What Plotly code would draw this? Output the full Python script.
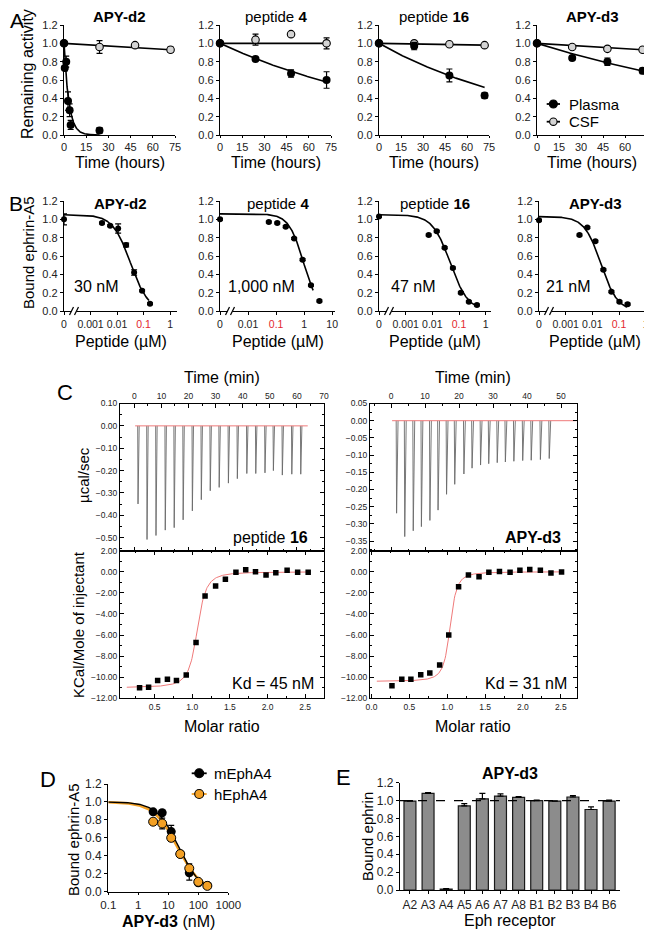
import numpy as np
import plotly.graph_objects as go

# page body has an 8px margin: the figure is sized to fit the 652x932 window
OFF = 8
W, H = 644, 924
FONT = "Arial, 'Liberation Sans', Helvetica, sans-serif"
RED = "#e3262e"
ITC_RED = "#ef7a7a"
ORANGE = "#f3a024"

def X(p):
    return (p - OFF) / W

def Y(p):
    return 1 - (p - OFF) / H

# ---------------- Panel A : stability ----------------
a_titles = ["<b>APY-d2</b>", "peptide <b>4</b>", "peptide <b>16</b>", "<b>APY-d3</b>"]
a_time_ticks = [0, 15, 30, 45, 60, 75]
a1_plasma_t = [0, 0.5, 1.5, 2.7, 3.8, 4.5, 24]
a1_plasma_y = [1.00, 0.73, 0.80, 0.37, 0.27, 0.11, 0.05]
a1_plasma_e = [0.00, 0.03, 0.06, 0.10, 0.07, 0.05, 0.03]
a1_csf_t = [0, 24, 48, 72]
a1_csf_y = [1.00, 0.96, 0.98, 0.93]
a1_csf_e = [0.00, 0.07, 0.01, 0.03]
a2_plasma_t = [0, 24, 48, 72]
a2_plasma_y = [1.00, 0.83, 0.67, 0.60]
a2_plasma_e = [0.00, 0.01, 0.04, 0.09]
a2_csf_t = [0, 24, 48, 72]
a2_csf_y = [1.00, 1.04, 1.10, 1.00]
a2_csf_e = [0.00, 0.06, 0.00, 0.06]
a3_plasma_t = [0, 24, 48, 72]
a3_plasma_y = [1.00, 0.97, 0.65, 0.43]
a3_plasma_e = [0.00, 0.04, 0.07, 0.03]
a3_csf_t = [0, 24, 48, 72]
a3_csf_y = [1.00, 1.00, 0.99, 0.98]
a3_csf_e = [0.00, 0.01, 0.01, 0.01]
a4_plasma_t = [0, 24, 48, 72]
a4_plasma_y = [1.00, 0.84, 0.80, 0.70]
a4_plasma_e = [0.00, 0.02, 0.04, 0.03]
a4_csf_t = [0, 24, 48, 72]
a4_csf_y = [1.00, 0.96, 0.94, 0.93]
a4_csf_e = [0.00, 0.01, 0.02, 0.01]
# fitted one-phase decay constants (1/h) and fit end times
a_plasma_k = [0.31, 0.0076, 0.0091, 0.0050]
a_csf_k = [0.0010, 0.0, 0.00028, 0.0010]
a_plasma_fit_end = [24, 72, 72, 72]
a_legend = ["Plasma", "CSF"]

# ---------------- Panel B : inhibition ----------------
b_titles = a_titles
b1_conc = [0, 0.0027, 0.0055, 0.011, 0.022, 0.044, 0.088, 0.175]
b1_y = [1.00, 0.96, 0.93, 0.90, 0.72, 0.42, 0.22, 0.08]
b1_e = [0.06, 0.01, 0.01, 0.05, 0.02, 0.03, 0.01, 0.01]
b2_conc = [0, 0.055, 0.11, 0.22, 0.44, 0.88, 1.75, 3.5]
b2_y = [1.00, 0.97, 0.96, 0.92, 0.79, 0.56, 0.28, 0.11]
b2_e = [0.01, 0.01, 0.01, 0.01, 0.01, 0.01, 0.01, 0.01]
b3_conc = [0, 0.0073, 0.0146, 0.029, 0.059, 0.117, 0.234, 0.47]
b3_y = [1.03, 0.83, 0.87, 0.69, 0.47, 0.20, 0.10, 0.065]
b3_e = [0.01, 0.01, 0.01, 0.01, 0.01, 0.01, 0.01, 0.01]
b4_conc = [0, 0.0033, 0.0065, 0.013, 0.026, 0.052, 0.104, 0.21]
b4_y = [0.99, 0.83, 0.91, 0.76, 0.45, 0.21, 0.10, 0.075]
b4_e = [0.01, 0.01, 0.01, 0.01, 0.01, 0.01, 0.01, 0.01]
b_top = [1.05, 1.06, 1.05, 1.03]
b_ic50 = [0.032, 0.95, 0.047, 0.021]
b_hill = [1.3, 1.65, 1.3, 1.4]
b_fit_end = [0.16, 2.1, 0.47, 0.20]
b_ic50_text = ["30 nM", "1,000 nM", "47 nM", "21 nM"]
b_zero_pos = [-4, -3, -4, -4]
b_tick_vals = [[-4, -3, -2, -1, 0], [-3, -2, -1, 0, 1], [-4, -3, -2, -1, 0], [-4, -3, -2, -1, 0]]
red01 = "<span style='color:%s'>0.1</span>" % RED
b_tick_text = [["0", "0.001", "0.01", red01, "1"], ["0", "0.01", red01, "1", "10"],
               ["0", "0.001", "0.01", red01, "1"], ["0", "0.001", "0.01", red01, "1"]]

# ---------------- Panel C : ITC ----------------
c1_inj_t = [1.25, 4.57, 7.88, 11.3, 14.6, 17.9, 21.3, 24.6, 27.9, 31.2, 34.6, 37.9, 41.4, 44.7, 48.1, 51.2, 54.5, 58.0, 61.3]
c1_inj_d = [-0.349, -0.508, -0.49, -0.466, -0.455, -0.42, -0.38, -0.33, -0.29, -0.275, -0.256, -0.236, -0.213, -0.213, -0.21, -0.20, -0.22, -0.216, -0.216]
c1_ratio = [0.30, 0.42, 0.54, 0.67, 0.79, 0.92, 1.05, 1.17, 1.31, 1.44, 1.58, 1.71, 1.84, 1.98, 2.11, 2.26, 2.40, 2.54]
c1_heat = [-11.0, -10.95, -10.3, -10.2, -10.3, -9.8, -6.7, -2.3, -1.35, -0.7, -0.05, 0.2, 0.0, -0.3, -0.1, 0.15, -0.05, -0.05]
c2_inj_t = [1.5, 3.9, 6.4, 8.8, 11.3, 13.7, 16.2, 18.6, 21.3, 23.7, 26.2, 28.6, 31.1, 33.5, 36.0, 38.6, 41.1, 43.8, 46.4]
c2_inj_d = [-0.269, -0.337, -0.32, -0.308, -0.29, -0.26, -0.214, -0.185, -0.155, -0.138, -0.129, -0.125, -0.122, -0.12, -0.118, -0.116, -0.115, -0.113, -0.11]
c2_ratio = [0.27, 0.40, 0.52, 0.65, 0.77, 0.90, 1.02, 1.15, 1.28, 1.42, 1.55, 1.69, 1.83, 1.96, 2.09, 2.23, 2.37, 2.51]
c2_heat = [-10.8, -10.2, -10.2, -9.77, -9.6, -8.85, -6.0, -1.42, -0.3, -0.47, -0.05, 0.03, -0.05, 0.15, 0.22, 0.15, -0.12, -0.03]
# one-site fit parameters: dH (kcal/mol), n, c-value
c_dH = [-11.0, -10.4]
c_n = [1.07, 1.04]
c_c = [300.0, 500.0]
c_fit_range = [(0.13, 2.55), (0.07, 2.52)]
c_labels = ["peptide <b>16</b>", "<b>APY-d3</b>"]
c_kd = ["Kd = 45 nM", "Kd = 31 nM"]

# ---------------- Panel D ----------------
d_conc = [3.125, 6.25, 12.5, 25, 50, 100, 200]
d_m_y = [0.89, 0.88, 0.67, 0.42, 0.21, 0.10, 0.07]
d_m_e = [0.02, 0.02, 0.07, 0.02, 0.08, 0.01, 0.01]
d_h_y = [0.78, 0.76, 0.60, 0.42, 0.26, 0.11, 0.065]
d_h_e = [0.02, 0.06, 0.04, 0.02, 0.05, 0.01, 0.01]
d_ic50 = [22.0, 20.0]
d_hill = [1.2, 1.1]
d_legend = ["mEphA4", "hEphA4"]

# ---------------- Panel E ----------------
e_receptors = ["A2", "A3", "A4", "A5", "A6", "A7", "A8", "B1", "B2", "B3", "B4", "B6"]
e_values = [0.995, 1.08, 0.01, 0.94, 1.02, 1.05, 1.035, 1.00, 0.995, 1.04, 0.90, 0.995]
e_err = [0.005, 0.01, 0.005, 0.025, 0.06, 0.025, 0.01, 0.005, 0.003, 0.015, 0.03, 0.01]

# =====================================================================
fig = go.Figure()
layout = dict(width=W, height=H, margin=dict(l=0, r=0, t=0, b=0, autoexpand=False),
              paper_bgcolor="white", plot_bgcolor="white", template="none",
              font=dict(family=FONT, color="black"), showlegend=False)
annotations = []
shapes = []
counter = [0]


def base_axis(size=11):
    return dict(showline=True, linecolor="black", linewidth=1.3, ticks="outside", ticklen=3,
                tickwidth=1.3, tickcolor="black", showgrid=False, zeroline=False, automargin=False,
                tickangle=0, tickfont=dict(size=size, color="#222", family=FONT))


def add_axes(xpx, ypx, xa, ya, size=11):
    counter[0] += 1
    n = counter[0]
    sfx = "" if n == 1 else str(n)
    xd = base_axis(size)
    xd.update(domain=[X(xpx[0]), X(xpx[1])], anchor="y" + sfx)
    xd.update(xa)
    yd = base_axis(size)
    yd.update(domain=[Y(ypx[1]), Y(ypx[0])], anchor="x" + sfx)
    yd.update(ya)
    layout["xaxis" + sfx] = xd
    layout["yaxis" + sfx] = yd
    return "x" + sfx, "y" + sfx


def ann(text, x, y, size, xanchor="center", yanchor="middle", angle=0, color="black"):
    annotations.append(dict(text=text, x=X(x), y=Y(y), xref="paper", yref="paper",
                            xanchor=xanchor, yanchor=yanchor, showarrow=False, textangle=angle,
                            font=dict(size=size, color=color, family=FONT)))


def legend_key(x0, x1, y, r, fill, linecolor, text, tx):
    shapes.append(dict(type="line", xref="paper", yref="paper", x0=X(x0), x1=X(x1), y0=Y(y), y1=Y(y),
                       line=dict(color=linecolor, width=1.8), layer="above"))
    cx = (x0 + x1) / 2
    shapes.append(dict(type="circle", xref="paper", yref="paper", x0=X(cx - r), x1=X(cx + r),
                       y0=Y(y + r), y1=Y(y - r), fillcolor=fill, line=dict(color="black", width=1.1),
                       layer="above"))
    ann(text, tx, y, 15, xanchor="left")


def err(arr):
    return dict(type="data", array=arr, color="black", thickness=1.2, width=3)


# ---------------- Panel A ----------------
a_xpx = [(64, 175), (220, 331), (379, 489), (537, 647)]
a_data = [
    (a1_plasma_t, a1_plasma_y, a1_plasma_e, a1_csf_t, a1_csf_y, a1_csf_e),
    (a2_plasma_t, a2_plasma_y, a2_plasma_e, a2_csf_t, a2_csf_y, a2_csf_e),
    (a3_plasma_t, a3_plasma_y, a3_plasma_e, a3_csf_t, a3_csf_y, a3_csf_e),
    (a4_plasma_t, a4_plasma_y, a4_plasma_e, a4_csf_t, a4_csf_y, a4_csf_e),
]
for i in range(4):
    xr, yr = add_axes(a_xpx[i], (25, 135),
                      dict(range=[0, 75], tickvals=a_time_ticks, ticklen=2),
                      dict(range=[0, 1.2], tickvals=[0, 0.2, 0.4, 0.6, 0.8, 1.0, 1.2], tickformat=".1f"))
    pt, py, pe, ct, cy, ce = a_data[i]
    tc = np.linspace(0, 72, 60)
    fig.add_trace(go.Scatter(x=tc, y=np.exp(-a_csf_k[i] * tc), mode="lines", xaxis=xr, yaxis=yr,
                             line=dict(color="black", width=1.6), hoverinfo="skip"))
    tp = np.linspace(0, a_plasma_fit_end[i], 200)
    fig.add_trace(go.Scatter(x=tp, y=np.exp(-a_plasma_k[i] * tp), mode="lines", xaxis=xr, yaxis=yr,
                             line=dict(color="black", width=1.6), hoverinfo="skip"))
    fig.add_trace(go.Scatter(x=ct, y=cy, error_y=err(ce), mode="markers", xaxis=xr, yaxis=yr,
                             marker=dict(size=7.5, color="#d4d4d4", line=dict(color="black", width=1.1)),
                             cliponaxis=False))
    fig.add_trace(go.Scatter(x=pt, y=py, error_y=err(pe), mode="markers", xaxis=xr, yaxis=yr,
                             marker=dict(size=8, color="black"), cliponaxis=False))
    ann(a_titles[i], (a_xpx[i][0] + a_xpx[i][1]) / 2, 16.5, 15)
    ann("Time (hours)", (a_xpx[i][0] + a_xpx[i][1]) / 2, 162.5, 16)
legend_key(546.7, 560, 104, 4, "black", "black", a_legend[0], 566.7)
legend_key(546.7, 560, 121.7, 3.7, "#d4d4d4", "black", a_legend[1], 566.7)
ann("Remaining activity", 28, 74, 16, angle=-90)
ann("A", 17, 20, 21)

# ---------------- Panel B ----------------
b_xpx = [(64, 177), (220, 335), (379, 491), (539, 651)]
b_xmax = [0.26, 1.1, 0.2, 0.2]
b_data = [(b1_conc, b1_y, b1_e), (b2_conc, b2_y, b2_e), (b3_conc, b3_y, b3_e), (b4_conc, b4_y, b4_e)]
b_text_x = [96, 261, 413, 568]
for i in range(4):
    xr, yr = add_axes(b_xpx[i], (201, 311),
                      dict(range=[b_zero_pos[i], b_xmax[i]], tickvals=b_tick_vals[i], ticktext=b_tick_text[i],
                           tickfont=dict(size=10.5, color="#222", family=FONT)),
                      dict(range=[0, 1.2], tickvals=[0, 0.2, 0.4, 0.6, 0.8, 1.0, 1.2], tickformat=".1f"))
    conc, yy, ee = b_data[i]
    pos = [np.log10(c) if c > 0 else b_zero_pos[i] for c in conc]
    lx = np.linspace(b_zero_pos[i], np.log10(b_fit_end[i]), 200)
    ly = b_top[i] / (1 + 10 ** ((lx - np.log10(b_ic50[i])) * b_hill[i]))
    fig.add_trace(go.Scatter(x=lx, y=ly, mode="lines", xaxis=xr, yaxis=yr,
                             line=dict(color="black", width=1.6), hoverinfo="skip"))
    fig.add_trace(go.Scatter(x=pos, y=yy, error_y=err(ee), mode="markers", xaxis=xr, yaxis=yr,
                             marker=dict(size=6, color="black"), cliponaxis=False))
    ann(b_titles[i], (b_xpx[i][0] + b_xpx[i][1]) / 2, 203, 15)
    ann("Peptide (\u00b5M)", (b_xpx[i][0] + b_xpx[i][1]) / 2, 341, 16)
    ann(b_ic50_text[i], b_text_x[i], 286, 16)
    # axis break marks
    cx = b_xpx[i][0] + 10
    shapes.append(dict(type="rect", xref="paper", yref="paper", x0=X(cx - 2.5), x1=X(cx + 2.5),
                       y0=Y(313), y1=Y(309), fillcolor="white", line=dict(width=0), layer="above"))
    for dxp in (-2.5, 2.5):
        shapes.append(dict(type="line", xref="paper", yref="paper", x0=X(cx + dxp - 2), x1=X(cx + dxp + 2),
                           y0=Y(315), y1=Y(307), line=dict(color="black", width=1.2), layer="above"))
ann("Bound ephrin-A5", 28, 253, 15, angle=-90)
ann("B", 16, 203, 21)


# ---------------- Panel C ----------------
def wiseman(xr_, dH, n, c):
    Xr = np.asarray(xr_) / n
    r = 1.0 / c
    return dH * (0.5 + (1 - Xr - r) / (2 * np.sqrt((1 + Xr + r) ** 2 - 4 * Xr)))


def c_axis_common():
    return dict(mirror="ticks", ticks="inside", ticklen=4, linewidth=1.1, tickwidth=1.1,
                minor=dict(ticks="inside", ticklen=2, tickcolor="black", tickwidth=1))


c_xpx = [(120, 324), (370, 576.7)]
c_time_range = [[-5.28, 70], [-6.2, 54.6]]
c_up_range = [[-0.558, 0.10], [-0.378, 0.05]]
c_up_dtick = [0.1, 0.05]
c_ratio_range = [[0.04, 2.75], [-0.02, 2.71]]
c_inj = [(c1_inj_t, c1_inj_d), (c2_inj_t, c2_inj_d)]
c_iso = [(c1_ratio, c1_heat), (c2_ratio, c2_heat)]
c_base_end = [64, 54.6]
for j in range(2):
    xa = dict(range=c_time_range[j], side="top", dtick=10, tick0=0)
    xa.update(c_axis_common())
    xa["minor"]["dtick"] = 5
    ya = dict(range=c_up_range[j], dtick=c_up_dtick[j], tick0=0, tickformat=".2f")
    ya.update(c_axis_common())
    ya["minor"]["dtick"] = c_up_dtick[j] / 2
    xr, yr = add_axes(c_xpx[j], (403.5, 550.7), xa, ya, size=8.5)
    tt, dd = c_inj[j]
    sx, sy = [], []
    for t, d in zip(tt, dd):
        sx += [t, t + 0.12, t + 0.55, None]
        sy += [0, d, 0, None]
    fig.add_trace(go.Scatter(x=sx, y=sy, mode="lines", xaxis=xr, yaxis=yr,
                             line=dict(color="#6a6a6a", width=0.9), hoverinfo="skip"))
    fig.add_trace(go.Scatter(x=[0.3, c_base_end[j]], y=[0, 0], mode="lines", xaxis=xr, yaxis=yr,
                             line=dict(color=ITC_RED, width=1), hoverinfo="skip"))
    xa2 = dict(range=c_ratio_range[j], dtick=0.5, tick0=0, tickformat=".1f")
    xa2.update(c_axis_common())
    xa2["minor"]["dtick"] = 0.25
    ya2 = dict(range=[-12, 2], dtick=2, tick0=0, tickformat=".2f")
    ya2.update(c_axis_common())
    ya2["minor"]["dtick"] = 1
    xr2, yr2 = add_axes(c_xpx[j], (550.7, 698.3), xa2, ya2, size=8.5)
    fx = np.linspace(c_fit_range[j][0], c_fit_range[j][1], 300)
    fig.add_trace(go.Scatter(x=fx, y=wiseman(fx, c_dH[j], c_n[j], c_c[j]), mode="lines", xaxis=xr2, yaxis=yr2,
                             line=dict(color=ITC_RED, width=1), hoverinfo="skip"))
    rr, hh = c_iso[j]
    fig.add_trace(go.Scatter(x=rr, y=hh, mode="markers", xaxis=xr2, yaxis=yr2,
                             marker=dict(size=5.5, color="black", symbol="square")))
    mid = (c_xpx[j][0] + c_xpx[j][1]) / 2
    ann("Time (min)", mid, 378, 16)
    ann("Molar ratio", mid, 726, 16)
    ann(c_labels[j], c_xpx[j][1] - 14, 537, 16, xanchor="right")
    ann(c_kd[j], c_xpx[j][1] - 8, 683, 16, xanchor="right")
ann("\u00b5cal/sec", 83, 475, 15, angle=-90)
ann("KCal/Mole of injectant", 78, 625, 15, angle=-90)
ann("C", 65, 392, 22)

# ---------------- Panel D ----------------
xr, yr = add_axes((108.3, 228.3), (784, 891.7),
                  dict(type="log", range=[-1, 3], tickvals=[0.1, 1, 10, 100, 1000],
                       ticktext=["0.1", "1", "10", "100", "1000"], ticklen=2,
                       tickfont=dict(size=11.5, color="#222", family=FONT)),
                  dict(range=[0, 1.2], tickvals=[0, 0.2, 0.4, 0.6, 0.8, 1.0, 1.2], tickformat=".1f"),
                  size=12)
dcx = np.logspace(-1, np.log10(200), 200)
fig.add_trace(go.Scatter(x=dcx, y=1 / (1 + (dcx / d_ic50[1]) ** d_hill[1]), mode="lines", xaxis=xr, yaxis=yr,
                         line=dict(color=ORANGE, width=2.6), hoverinfo="skip"))
fig.add_trace(go.Scatter(x=dcx, y=1 / (1 + (dcx / d_ic50[0]) ** d_hill[0]), mode="lines", xaxis=xr, yaxis=yr,
                         line=dict(color="black", width=1.4), hoverinfo="skip"))
fig.add_trace(go.Scatter(x=d_conc, y=d_m_y, error_y=err(d_m_e), mode="markers", xaxis=xr, yaxis=yr,
                         marker=dict(size=9, color="black")))
fig.add_trace(go.Scatter(x=d_conc, y=d_h_y, error_y=err(d_h_e), mode="markers", xaxis=xr, yaxis=yr,
                         marker=dict(size=9, color=ORANGE, line=dict(color="black", width=1))))
legend_key(191.7, 206.7, 773.3, 4.5, "black", "black", d_legend[0], 211.7)
legend_key(191.7, 206.7, 794, 4.5, ORANGE, ORANGE, d_legend[1], 211.7)
ann("Bound ephrin-A5", 73, 840, 15, angle=-90)
ann("<b>APY-d3</b> (nM)", 168, 921.5, 16)
ann("D", 48, 779, 22)

# ---------------- Panel E ----------------
xr, yr = add_axes((400, 620), (782.7, 890),
                  dict(range=[-0.55, 11.6], tickvals=list(range(12)), ticktext=e_receptors, ticklen=3),
                  dict(range=[0, 1.2], tickvals=[0, 0.2, 0.4, 0.6, 0.8, 1.0, 1.2], tickformat=".1f"),
                  size=12)
fig.add_trace(go.Bar(x=list(range(12)), y=e_values, width=0.66, xaxis=xr, yaxis=yr,
                     marker=dict(color="#8c8c8c", line=dict(color="#1a1a1a", width=1.2)),
                     error_y=dict(type="data", array=e_err, arrayminus=[0] * 12, symmetric=False,
                                  color="black", thickness=1.2, width=3)))
shapes.append(dict(type="line", xref="paper", yref=yr, x0=X(400), x1=X(620), y0=1.0, y1=1.0,
                   line=dict(color="black", width=1.2, dash="dash"), layer="above"))
ann("<b>APY-d3</b>", 510, 773, 16)
ann("Eph receptor", 510, 920, 16)
ann("Bound ephrin", 367, 837, 15, angle=-90)
ann("E", 343, 777, 22)

layout["annotations"] = annotations
layout["shapes"] = shapes
fig.update_layout(**layout)
fig.write_html("out.html")
